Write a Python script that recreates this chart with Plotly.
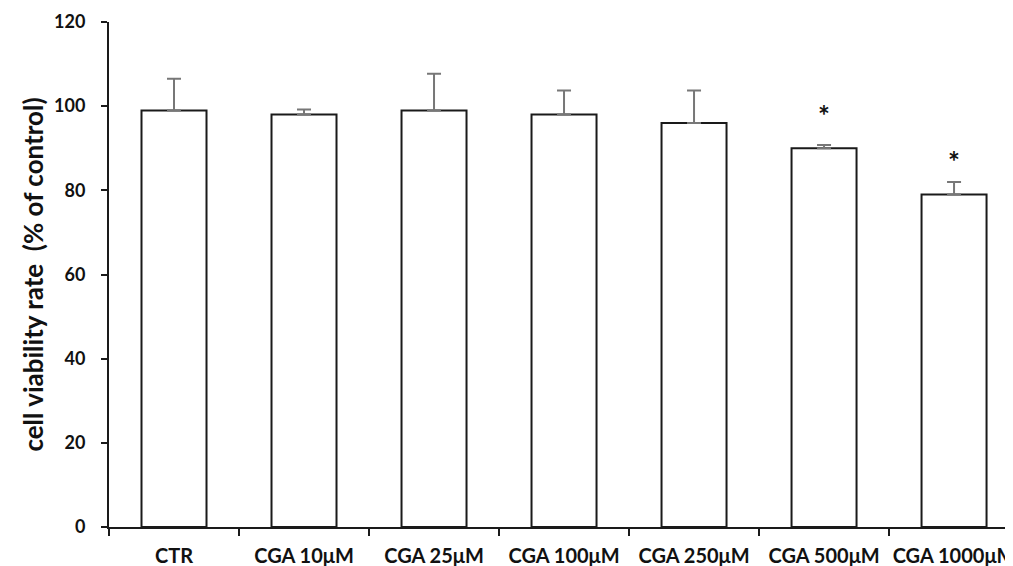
import plotly.graph_objects as go

categories = ["CTR", "CGA 10μM", "CGA 25μM", "CGA 100μM", "CGA 250μM", "CGA 500μM", "CGA 1000μM"]
viability = [99, 98, 99, 98, 96, 90, 79]
error_up = [7.5, 1.2, 8.7, 5.7, 7.7, 0.8, 3.0]
asterisk_y = [None, None, None, None, None, 97, 86]
asterisk_text = ["", "", "", "", "", "*", "*"]
y_ticks = [0, 20, 40, 60, 80, 100, 120]
y_range = [0, 120]

FONT = "Lato"

fig = go.Figure()
fig.add_trace(go.Bar(
    x=categories, y=viability, width=0.5,
    marker=dict(color="white", line=dict(color="#1a1a1a", width=2)),
    error_y=dict(type="data", symmetric=False, array=error_up,
                 arrayminus=[0] * len(error_up),
                 color="#777777", thickness=2, width=7),
    showlegend=False, hoverinfo="skip",
))
fig.add_trace(go.Scatter(
    x=categories, y=asterisk_y, text=asterisk_text, mode="text",
    textposition="middle center", yaxis="y2",
    textfont=dict(family=FONT, size=28, color="#111111", weight="bold"),
    showlegend=False, hoverinfo="skip",
))

fig.update_layout(
    width=1013, height=566,
    margin=dict(l=101, r=0, t=14, b=47, autoexpand=False),
    paper_bgcolor="white", plot_bgcolor="white",
    font=dict(family=FONT, color="#111111"),
    xaxis=dict(
        range=[-0.5, 6.515], showline=True, linecolor="#1a1a1a", linewidth=2,
        ticks="outside", tickson="boundaries", ticklen=7, tickwidth=2,
        tickcolor="#1a1a1a", showgrid=False, zeroline=False, ticklabelstandoff=10,
        tickangle=0, automargin=False,
        tickfont=dict(family=FONT, size=20, color="#111111", weight="bold"),
    ),
    yaxis=dict(
        range=y_range, tickvals=y_ticks, showline=True, linecolor="#1a1a1a",
        linewidth=2, ticks="outside", ticklen=6, tickwidth=2, tickcolor="#1a1a1a",
        showgrid=False, zeroline=False, automargin=False, showticklabels=False,
    ),
    yaxis2=dict(
        overlaying="y", side="left", anchor="x",
        range=y_range, tickvals=y_ticks, showline=False,
        ticks="outside", ticklen=19, tickwidth=1, tickcolor="rgba(0,0,0,0)",
        showgrid=False, zeroline=False, automargin=False,
        tickfont=dict(family=FONT, size=18, color="#111111", weight="bold"),
        title=dict(text="cell viability rate  (% of control)", standoff=2,
                   font=dict(family=FONT, size=26, color="#111111", weight="bold")),
    ),
)

fig.write_html("out.html")
